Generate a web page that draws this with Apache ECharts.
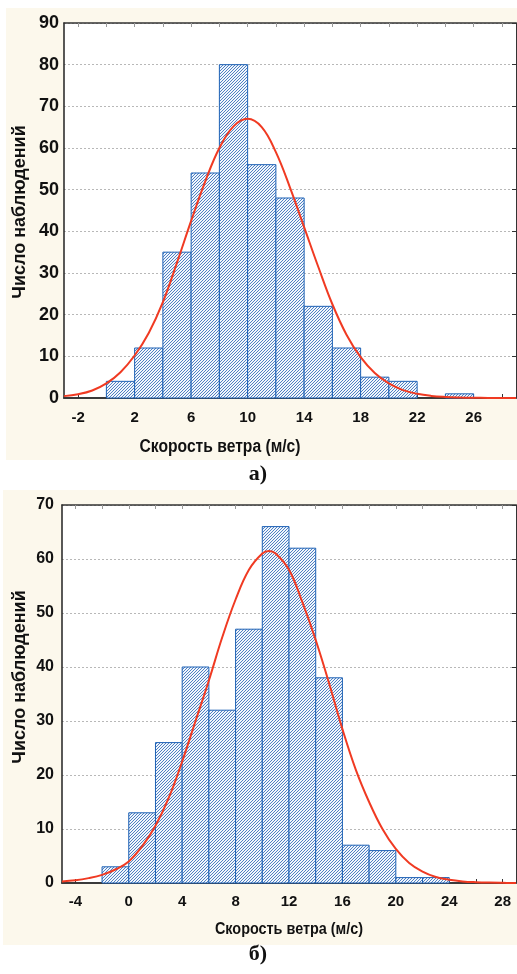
<!DOCTYPE html>
<html>
<head>
<meta charset="utf-8">
<script src="https://cdn.jsdelivr.net/npm/echarts@6/dist/echarts.min.js"></script>
<style>
html,body{margin:0;padding:0;background:#fff;}
#c{width:517px;height:974px;}
</style>
</head>
<body>
<div id="c"></div>
<script>
// ---- Chart a) ----
var binStartA = [0, 2, 4, 6, 8, 10, 12, 14, 16, 18, 20, 22, 24];
var countsA   = [4, 12, 35, 54, 80, 56, 48, 22, 12, 5, 4, 0, 1];
var curveXA = [-3,-2,-1,0,1,2,3,4,5,6,7,8,9,10,11,12,13,14,15,16,17,18,19,20,21,22,23,24,25,26,27,28,29];
var curveYA = [0.45,0.9,1.8,3.5,6.2,10.2,15.6,23,32.5,42.5,52,60,65.2,67,65,59,50.5,41,31.5,22.5,15.2,9.8,6,3.5,1.9,1.0,0.5,0.25,0.12,0.05,0.02,0.01,0];
var xLabelsA = [-2, 2, 6, 10, 14, 18, 22, 26];
var xTicksA = [-2,0,2,4,6,8,10,12,14,16,18,20,22,24,26,28];

// ---- Chart б) ----
var binStartB = [-2, 0, 2, 4, 6, 8, 10, 12, 14, 16, 18, 20, 22];
var countsB   = [3, 13, 26, 40, 32, 47, 66, 62, 38, 7, 6, 1, 1];
var curveXB = [-5,-4,-3,-2,-1,0,1,2,3,4,5,6,7,8,9,10,10.5,11,12,13,14,15,16,17,18,19,20,21,22,23,24,25,26,27,28,29];
var curveYB = [0.3,0.5,0.9,1.5,2.5,4.0,6.8,10.6,15.8,22.5,30,37.5,45.5,52.5,58,61,61.5,61,58,52,45,37,28.5,21,15,10,6.3,3.7,2.1,1.1,0.6,0.3,0.15,0.07,0.03,0.01];
var xLabelsB = [-4, 0, 4, 8, 12, 16, 20, 24, 28];
var xTicksB = [-4,-2,0,2,4,6,8,10,12,14,16,18,20,22,24,26,28];

var binWidth = 2;
var xTitle = 'Скорость ветра (м/с)';
var yTitle = 'Число наблюдений';

function makeHatch(){
  var s = 3;
  var c = document.createElement('canvas');
  c.width = s; c.height = s;
  var ctx = c.getContext('2d');
  ctx.fillStyle = '#f1f6fc';
  ctx.fillRect(0,0,s,s);
  ctx.strokeStyle = '#4f80c2';
  ctx.lineWidth = 1;
  ctx.beginPath();
  ctx.moveTo(0,s); ctx.lineTo(s,0);
  ctx.moveTo(-1,1); ctx.lineTo(1,-1);
  ctx.moveTo(s-1,s+1); ctx.lineTo(s+1,s-1);
  ctx.stroke();
  return c;
}
var hatch = makeHatch();

function histData(starts, counts){
  return starts.map(function(s,i){ return [s, s+binWidth, counts[i]]; });
}
function curveData(xs, ys){
  return xs.map(function(x,i){ return [x, ys[i]]; });
}
function renderBar(params, api){
  var x0 = api.value(0), x1 = api.value(1), v = api.value(2);
  if (!v) return null;
  var p0 = api.coord([x0, v]);
  var p1 = api.coord([x1, 0]);
  return {
    type: 'rect',
    shape: {x: p0[0], y: p0[1], width: p1[0]-p0[0], height: p1[1]-p0[1]},
    style: {fill: {image: hatch, repeat: 'repeat'}, stroke: '#1d61b5', lineWidth: 1}
  };
}

var FR = '"Liberation Sans", Arial, sans-serif';

function bottomX(grid, min, max, labels, ticks, fs, margin){
  return {
    type: 'value', gridIndex: grid, min: min, max: max, position: 'bottom',
    axisLine: {show: true, onZero: false, lineStyle: {color: '#3a3a3a', width: 2}},
    axisTick: {show: true, inside: true, length: 4, customValues: ticks, lineStyle: {color: '#333'}},
    axisLabel: {show: true, customValues: labels, fontFamily: FR, fontWeight: 'bold', fontSize: fs, color: '#111', margin: margin},
    splitLine: {show: false}
  };
}
function topX(grid, min, max, ticks){
  return {
    type: 'value', gridIndex: grid, min: min, max: max, position: 'top',
    axisLine: {show: true, onZero: false, lineStyle: {color: '#333', width: 1.5}},
    axisTick: {show: true, inside: true, length: 4, customValues: ticks, lineStyle: {color: '#999'}},
    axisLabel: {show: false},
    splitLine: {show: false}
  };
}
function leftY(grid, max, fs, margin){
  return {
    type: 'value', gridIndex: grid, min: 0, max: max, interval: 10, position: 'left',
    axisLine: {show: true, onZero: false, lineStyle: {color: '#222', width: 1.5}},
    axisTick: {show: false},
    axisLabel: {fontFamily: FR, fontWeight: 'bold', fontSize: fs, color: '#111', margin: margin},
    splitLine: {show: true, lineStyle: {color: '#b8b8b8', type: [2,2], width: 1}}
  };
}
function rightY(grid, max){
  return {
    type: 'value', gridIndex: grid, min: 0, max: max, interval: 10, position: 'right',
    axisLine: {show: true, onZero: false, lineStyle: {color: '#333', width: 1}},
    axisTick: {show: true, inside: true, length: 4, lineStyle: {color: '#333'}},
    axisLabel: {show: false},
    splitLine: {show: false}
  };
}

var chart = echarts.init(document.getElementById('c'), null, {renderer: 'canvas'});
chart.setOption({
  animation: false,
  backgroundColor: '#ffffff',
  grid: [
    {left: 64, top: 23, width: 452, height: 375, show: true, backgroundColor: '#ffffff', borderWidth: 0, containLabel: false},
    {left: 62, top: 505, width: 454, height: 378, show: true, backgroundColor: '#ffffff', borderWidth: 0, containLabel: false}
  ],
  xAxis: [
    bottomX(0, -3, 29, xLabelsA, xTicksA, 15, 12),
    topX(0, -3, 29, xTicksA),
    bottomX(1, -5, 29, xLabelsB, xTicksB, 15, 11),
    topX(1, -5, 29, xTicksB)
  ],
  yAxis: [
    leftY(0, 90, 18, 5),
    rightY(0, 90),
    leftY(1, 70, 16, 8),
    rightY(1, 70)
  ],
  graphic: [
    {type: 'rect', z: -100, shape: {x: 6, y: 8, width: 511, height: 452}, style: {fill: '#fcf8ec'}},
    {type: 'rect', z: -100, shape: {x: 3, y: 490, width: 514, height: 455}, style: {fill: '#fcf8ec'}},
    {type: 'text', x: 220, y: 447, scaleX: 0.87, style: {text: xTitle, fontFamily: FR, fontWeight: 'bold', fontSize: 18, fill: '#111', align: 'center', verticalAlign: 'middle'}},
    {type: 'text', x: 289, y: 930, scaleX: 0.9, style: {text: xTitle, fontFamily: FR, fontWeight: 'bold', fontSize: 16, fill: '#111', align: 'center', verticalAlign: 'middle'}},
    {type: 'text', x: 20, y: 212, rotation: Math.PI/2, style: {text: yTitle, fontFamily: FR, fontWeight: 'bold', fontSize: 18, fill: '#111', align: 'center', verticalAlign: 'middle'}},
    {type: 'text', x: 20, y: 677, rotation: Math.PI/2, style: {text: yTitle, fontFamily: FR, fontWeight: 'bold', fontSize: 18, fill: '#111', align: 'center', verticalAlign: 'middle'}},
    {type: 'text', x: 258, y: 474, style: {text: 'а)', fontFamily: '"Liberation Serif", "Times New Roman", serif', fontWeight: 'bold', fontSize: 22, fill: '#111', align: 'center', verticalAlign: 'middle'}},
    {type: 'text', x: 258, y: 954, style: {text: 'б)', fontFamily: '"Liberation Serif", "Times New Roman", serif', fontWeight: 'bold', fontSize: 22, fill: '#111', align: 'center', verticalAlign: 'middle'}}
  ],
  series: [
    {type: 'custom', xAxisIndex: 0, yAxisIndex: 0, renderItem: renderBar, encode: {x: [0,1], y: 2}, data: histData(binStartA, countsA), z: 2},
    {type: 'line', xAxisIndex: 0, yAxisIndex: 0, data: curveData(curveXA, curveYA), smooth: 0.4, showSymbol: false, symbol: 'none', lineStyle: {color: '#f03a22', width: 2}, z: 5},
    {type: 'custom', xAxisIndex: 2, yAxisIndex: 2, renderItem: renderBar, encode: {x: [0,1], y: 2}, data: histData(binStartB, countsB), z: 2},
    {type: 'line', xAxisIndex: 2, yAxisIndex: 2, data: curveData(curveXB, curveYB), smooth: 0.4, showSymbol: false, symbol: 'none', lineStyle: {color: '#f03a22', width: 2}, z: 5}
  ]
});
</script>
</body>
</html>
